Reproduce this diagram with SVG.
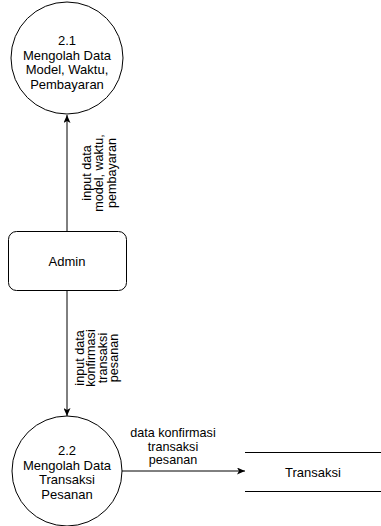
<svg xmlns="http://www.w3.org/2000/svg" width="381" height="526" viewBox="0 0 381 526">
<style>
.shape{fill:#fff;stroke:#000;stroke-width:1}
.t{font-family:"Liberation Sans",Arial,sans-serif;font-size:13px;fill:#000;text-anchor:middle}
.lbl{font-family:"Liberation Sans",Arial,sans-serif;font-size:12.6px;fill:#000;text-anchor:middle}
.edge{fill:none;stroke:#000;stroke-width:1}
</style>
<defs>
<marker id="arrow" viewBox="0 0 8 7" refX="8" refY="3.5" markerWidth="8" markerHeight="7" markerUnits="userSpaceOnUse" orient="auto">
<path d="M0,0 L8,3.5 L0,7 L2,3.5 z" fill="#000"/>
</marker>
</defs>
<g id="connectors">
<line class="edge" x1="67" y1="231" x2="67" y2="115" marker-end="url(#arrow)"/>
<line class="edge" x1="67" y1="291" x2="67" y2="416" marker-end="url(#arrow)"/>
<line class="edge" x1="122" y1="471" x2="245" y2="471" marker-end="url(#arrow)"/>
<text class="lbl" transform="translate(67,173) rotate(-90)"><tspan x="0" y="23.5">input data</tspan><tspan x="0" y="36">model, waktu,</tspan><tspan x="0" y="48.5">pembayaran</tspan></text>
<text class="lbl" transform="translate(67,358) rotate(-90)"><tspan x="0" y="16.5">input data</tspan><tspan x="0" y="28">konfirmasi</tspan><tspan x="0" y="39.5">transaksi</tspan><tspan x="0" y="51">pesanan</tspan></text>
<text class="lbl"><tspan x="173" y="437">data konfirmasi</tspan><tspan x="173" y="450.5">transaksi</tspan><tspan x="173" y="464">pesanan</tspan></text>
</g>
<g id="p21">
<circle class="shape" cx="67" cy="58" r="56"/>
<text class="t"><tspan x="67" y="45">2.1</tspan><tspan x="67" y="59.5">Mengolah Data</tspan><tspan x="67" y="74">Model, Waktu,</tspan><tspan x="67" y="88.5">Pembayaran</tspan></text>
</g>
<g id="admin">
<rect class="shape" x="8.5" y="231.5" width="118" height="59" rx="8" ry="8"/>
<text class="t" x="67" y="266">Admin</text>
</g>
<g id="p22">
<circle class="shape" cx="67" cy="471" r="55"/>
<text class="t"><tspan x="67" y="455">2.2</tspan><tspan x="67" y="469.5">Mengolah Data</tspan><tspan x="67" y="484">Transaksi</tspan><tspan x="67" y="498.5">Pesanan</tspan></text>
</g>
<g id="transaksi">
<line class="edge" x1="245" y1="452.5" x2="381" y2="452.5"/>
<line class="edge" x1="245" y1="491.5" x2="381" y2="491.5"/>
<text class="t" x="313" y="477">Transaksi</text>
</g>
</svg>
